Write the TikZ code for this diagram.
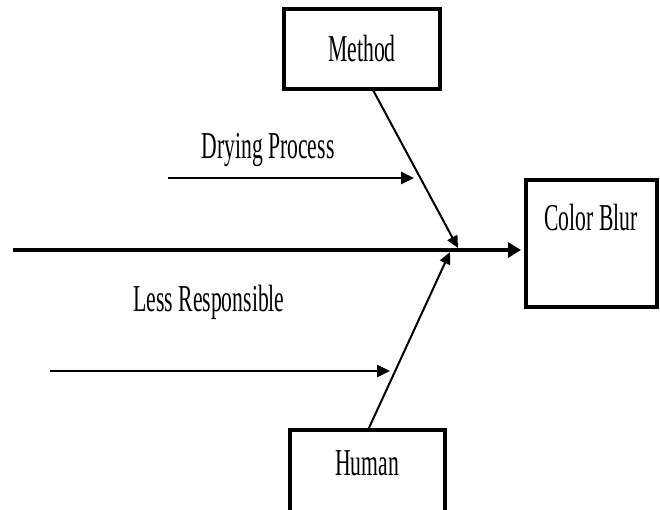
\documentclass[tikz,border=0pt]{standalone}
\usepackage{fontspec}
\setmainfont{Liberation Serif}[FakeStretch=0.57]
\usetikzlibrary{arrows.meta,calc}
\begin{document}
\begin{tikzpicture}[x=1pt,y=-1pt,
  box/.style={draw,line width=4pt,fill=white,inner sep=0pt},
  lbl/.style={font=\fontsize{38}{40}\selectfont,inner sep=0pt},
  spine/.style={line width=4.5pt,-{Triangle[length=13pt,width=15pt]}},
  rib/.style={line width=2pt,-{Triangle[length=12pt,width=11pt]}},
  cause/.style={line width=2.5pt,-{Triangle[length=13pt,width=12pt]}}]
\useasboundingbox (0,0) rectangle (660,510);
\clip (0,0) rectangle (660,510);

% category and effect boxes
\node[box,minimum width=156pt,minimum height=80pt] (method) at (361.5,49.5) {};
\node[lbl] (methodtxt) at (362,49) {Method};
\node[box,minimum width=155pt,minimum height=92pt] (human) at (367,476) {};
\node[lbl] (humantxt) at (367,463) {Human};
\node[box,minimum width=131pt,minimum height=126pt] (effect) at (591,243.5) {};
\node[lbl] (effecttxt) at (591,218) {Color Blur};

% main spine
\coordinate (tail) at (13,250);
\coordinate (spineend) at (521,250);
\draw[spine] (tail) -- (spineend);

% category ribs meeting the spine
\coordinate (mtop) at (373,90);
\coordinate (mtip) at (458,248);
\coordinate (htop) at (368,430);
\coordinate (htip) at (450,252);
\draw[rib] (mtop) -- (mtip);
\draw[rib] (htop) -- (htip);

% causes
\coordinate (d1) at (168,178);
\coordinate (d2) at (414,178);
\draw[cause] (d1) -- (d2);
\node[lbl] (dry) at (268,150) {Drying Process};

\coordinate (l1) at (50,371);
\coordinate (l2) at (390,371);
\draw[cause] (l1) -- (l2);
\node[lbl] (less) at (209,302) {Less Responsible};
\end{tikzpicture}
\end{document}
